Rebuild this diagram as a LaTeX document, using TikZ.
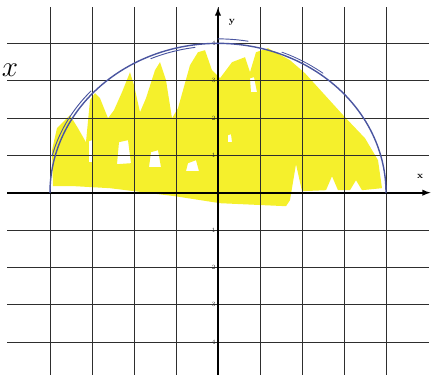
\documentclass[tikz,border=0pt]{standalone}
\usepackage{amsmath}
\usepackage{tikz}
\definecolor{penblue}{HTML}{4A55A0}
\definecolor{marker}{HTML}{F5F02C}
\definecolor{gridcol}{HTML}{2E2E2E}
\tikzset{
  gridline/.style={gridcol,line width=0.7pt},
  axisline/.style={black,line width=1.4pt,->},
  ticklab/.style={font=\fontsize{5.5}{6}\selectfont,inner sep=0.5pt,anchor=east,gridcol},
  axlab/.style={font=\bfseries\fontsize{8}{9}\selectfont,inner sep=0pt},
  penline/.style={penblue,line width=1.2pt,line cap=round},
}
\begin{document}
\begin{tikzpicture}[x=1.26cm,y=1.12cm,>=latex]
  \useasboundingbox (-5.19,-4.866) rectangle (5.071,5.161);
  % ---------- highlighter shading (traced in pixel units) ----------
  \begin{scope}[x=0.03cm,y=-0.03cm,shift={(-218,-192.5)}]
    \fill[marker,even odd rule]
      (53,186) -- (52,150) -- (57,128) -- (70,115) -- (78,128) -- (86,142)
      -- (90,100) -- (95,93) -- (100,98) -- (108,118) -- (114,110) -- (122,92)
      -- (130,72) -- (134,85) -- (140,112) -- (146,98) -- (155,70) -- (160,62)
      -- (166,80) -- (172,118) -- (178,108) -- (190,65) -- (198,52) -- (205,50)
      -- (212,70) -- (220,78) -- (232,62) -- (245,57) -- (250,72) -- (256,52)
      -- (268,48) -- (290,60) -- (305,73) -- (325,95) -- (345,117) -- (365,138)
      -- (378,160) -- (382,188) -- (362,190) -- (356,180) -- (350,190)
      -- (338,190) -- (332,176) -- (326,190) -- (302,191) -- (296,164)
      -- (290,200) -- (286,206) -- (220,203) -- (175,196)
      -- (110,188) -- (75,186) -- cycle
      (119,142) -- (128,140) -- (131,163) -- (117,164) -- cycle
      (151,152) -- (158,150) -- (161,167) -- (149,167) -- cycle
      (188,163) -- (196,160) -- (199,171) -- (186,171) -- cycle
      (89,141) -- (92,140) -- (93,162) -- (89,162) -- cycle
      (250,78) -- (254,77) -- (257,92) -- (251,92) -- cycle
      (228,135) -- (231,134) -- (232,142) -- (228,142) -- cycle;
  \end{scope}
  % ---------- grid ----------
  \foreach \k in {-4,...,4}
    \draw[gridline] (\k,-4.87) -- (\k,4.97);
  \foreach \k in {-4,...,-1,1,2,3,4}
    \draw[gridline] (-5.02,\k) -- (5.02,\k);
  % ---------- axes ----------
  \coordinate (xs) at (-5.02,0);
  \coordinate (xe) at (5.06,0);
  \coordinate (ys) at (0,-4.87);
  \coordinate (ye) at (0,4.96);
  \draw[axisline] (xs) -- (xe);
  \draw[axisline] (ys) -- (ye);
  \node[axlab] (xlab) at (4.81,0.44) {x};
  \node[axlab] (ylab) at (0.33,4.57) {y};
  \foreach \k in {-4,...,-1,1,2,3,4}
    \node[ticklab] (t\k) at (-0.04,\k) {\k};
  % ---------- pen semicircle ----------
  \draw[penline] plot[domain=0:180,samples=90,smooth] ({4*cos(\x)},{4*sin(\x)});
  \draw[penline,line width=0.8pt] plot[domain=138:166,samples=20,smooth]
      ({4.07*cos(\x)},{4.07*sin(\x)});
  \draw[penline,line width=0.8pt] plot[domain=98:114,samples=12,smooth]
      ({3.93*cos(\x)},{3.93*sin(\x)});
  \draw[penline,line width=0.8pt] plot[domain=80:90,samples=8,smooth]
      ({4.12*cos(\x)},{4.12*sin(\x)});
  \draw[penline,line width=0.7pt] plot[domain=52:68,samples=12,smooth]
      ({4.06*cos(\x)},{4.06*sin(\x)});
  % ---------- margin note ----------
  \node[font=\fontsize{30}{32}\selectfont,anchor=base west,inner sep=0pt]
      (dxlab) at (-5.15,3.10) {$x$};
\end{tikzpicture}
\end{document}
